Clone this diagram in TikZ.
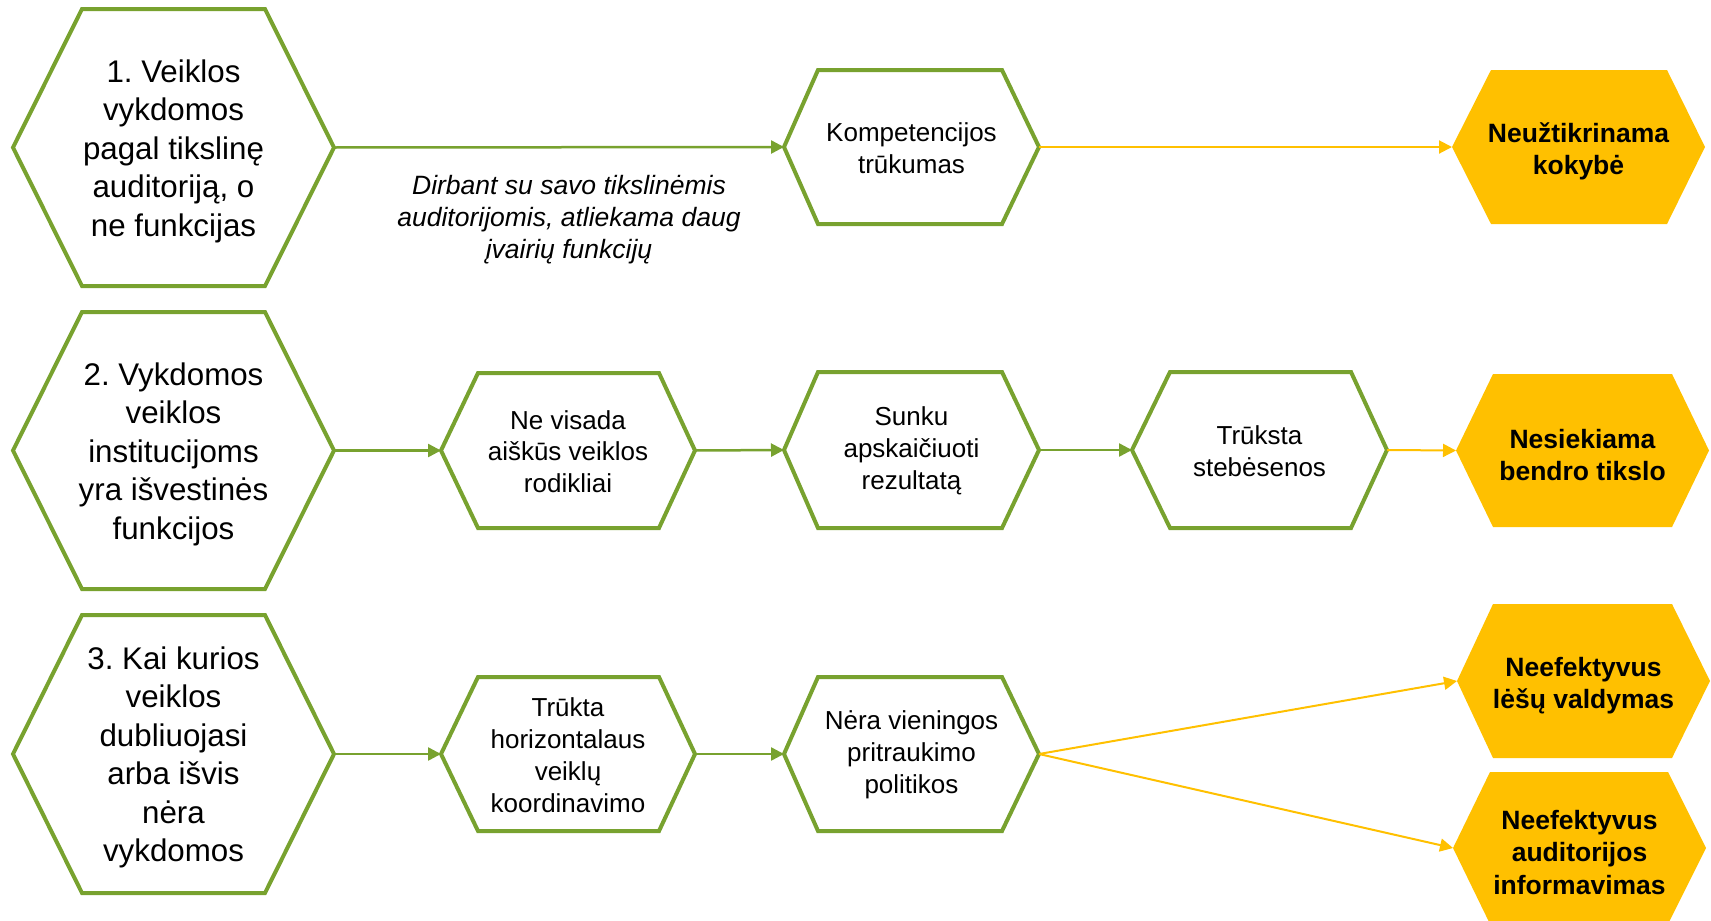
\documentclass[tikz,border=0pt]{standalone}
\usepackage{fontspec}
\setmainfont{Liberation Sans}
\usetikzlibrary{arrows.meta}
\frenchspacing
\definecolor{hgreen}{HTML}{78A22F}
\definecolor{hyellow}{HTML}{FFC000}
\newcommand{\hexshape}[8]{%
  \path[#8] (#2,{(#6+#7)/2}) -- (#3,#6) -- (#4,#6) -- (#5,{(#6+#7)/2}) -- (#4,#7) -- (#3,#7) -- cycle;
  \coordinate (#1-l) at (#2,{(#6+#7)/2});
  \coordinate (#1-r) at (#5,{(#6+#7)/2});
  \coordinate (#1-c) at ({(#2+#5)/2},{(#6+#7)/2});
}
\tikzset{
  ghex/.style={draw=hgreen, line width=4pt, fill=white, line join=miter},
  yhex/.style={fill=hyellow},
  bigtxt/.style={align=center, font=\fontsize{31.3}{38.5}\selectfont, inner sep=0pt, yshift=-3.5pt},
  smalltxt/.style={align=center, font=\fontsize{26}{31.8}\selectfont, inner sep=0pt, yshift=-1pt},
  boldtxt/.style={align=center, font=\fontsize{26.5}{32.7}\selectfont\bfseries, inner sep=0pt, yshift=-4.5pt},
  labeltxt/.style={align=center, font=\fontsize{26.5}{32}\selectfont\itshape, inner sep=0pt},
  garrow/.style={draw=hgreen, line width=2.5pt, -{Triangle[length=13pt,width=13pt]}},
  yarrow/.style={draw=hyellow, line width=2pt, -{Triangle[length=13pt,width=13pt]}}
}
\begin{document}
\begin{tikzpicture}[x=1pt,y=-1pt]
\useasboundingbox (0,0) rectangle (1711,921);
% row 1
\hexshape{h1}{13}{82}{265}{334}{9}{286}{ghex}
\hexshape{k}{784}{818}{1002}{1039}{70}{224}{ghex}
\hexshape{n1}{1452}{1491}{1667}{1705}{70}{224}{yhex}
% row 2
\hexshape{h2}{13}{82}{265}{334}{312}{589}{ghex}
\hexshape{nv}{441}{478}{659}{695}{373}{528}{ghex}
\hexshape{su}{784}{818}{1002}{1039}{372}{528}{ghex}
\hexshape{tr}{1132}{1170}{1351}{1387}{372}{528}{ghex}
\hexshape{n2}{1456}{1493}{1672}{1709}{374}{527}{yhex}
% row 3
\hexshape{h3}{13}{82}{265}{334}{615}{893}{ghex}
\hexshape{tk}{441}{478}{659}{695}{677}{831}{ghex}
\hexshape{ne}{784}{818}{1002}{1039}{677}{831}{ghex}
\hexshape{n3}{1457}{1493}{1672}{1710}{604}{758}{yhex}
\hexshape{n4}{1453}{1490}{1668}{1706}{772}{924}{yhex}

% texts
\node[bigtxt] (t1) at (h1-c) {1. Veiklos\\vykdomos\\pagal tikslinę\\auditoriją, o\\ne funkcijas};
\node[bigtxt] (t2) at (h2-c) {2. Vykdomos\\veiklos\\institucijoms\\yra išvestinės\\funkcijos};
\node[bigtxt] (t3) at (h3-c) {3. Kai kurios\\veiklos\\dubliuojasi\\arba išvis\\nėra\\vykdomos};
\node[smalltxt] (tk1) at (k-c) {Kompetencijos\\trūkumas};
\node[smalltxt] (tnv) at (nv-c) {Ne visada\\aiškūs veiklos\\rodikliai};
\node[smalltxt] (tsu) at (su-c) {Sunku\\apskaičiuoti\\rezultatą};
\node[smalltxt] (ttr) at (tr-c) {Trūksta\\stebėsenos};
\node[smalltxt] (ttk) at (tk-c) {Trūkta\\horizontalaus\\veiklų\\koordinavimo};
\node[smalltxt] (tne) at (ne-c) {Nėra vieningos\\pritraukimo\\politikos};
\node[boldtxt] (tn1) at (n1-c) {Neužtikrinama\\kokybė};
\node[boldtxt] (tn2) at (n2-c) {Nesiekiama\\bendro tikslo};
\node[boldtxt] (tn3) at (n3-c) {Neefektyvus\\lėšų valdymas};
\node[boldtxt] (tn4) at (n4-c) {Neefektyvus\\auditorijos\\informavimas};
\node[labeltxt] (lab) at (569,220) {Dirbant su savo tikslinėmis\\auditorijomis, atliekama daug\\įvairių funkcijų};

% connectors
\draw[garrow] (h1-r) -- (k-l);
\draw[yarrow] (k-r) -- (n1-l);
\draw[garrow] (h2-r) -- (nv-l);
\draw[garrow] (nv-r) -- (su-l);
\draw[garrow] (su-r) -- (tr-l);
\draw[yarrow] (tr-r) -- (n2-l);
\draw[garrow] (h3-r) -- (tk-l);
\draw[garrow] (tk-r) -- (ne-l);
\draw[yarrow] (ne-r) -- (n3-l);
\draw[yarrow] (ne-r) -- (n4-l);
\end{tikzpicture}
\end{document}
